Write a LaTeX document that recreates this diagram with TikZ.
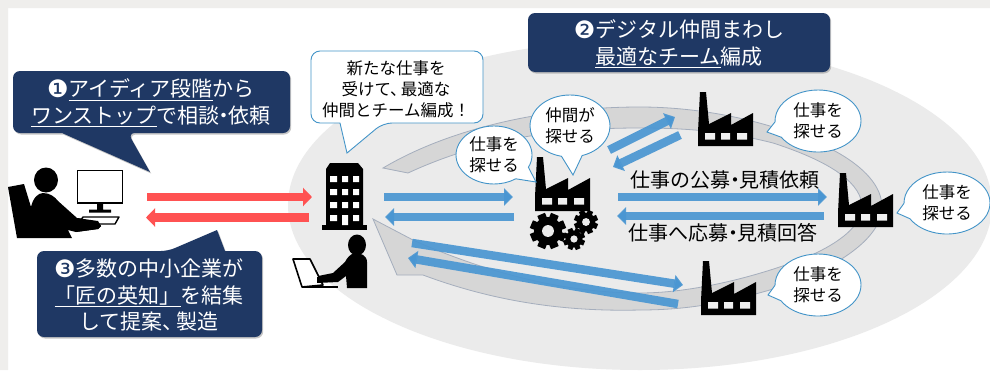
\documentclass[tikz,border=0pt]{standalone}
\usepackage{fontspec}
\setmainfont{Noto Sans CJK JP}
\newfontfamily\dvfont{DejaVu Sans}
\usetikzlibrary{arrows.meta,shapes.callouts,shadows}
\definecolor{navy}{HTML}{1F3864}
\definecolor{ringfill}{HTML}{D6D6D6}
\definecolor{ringline}{HTML}{A5AEBD}
\definecolor{halo}{HTML}{EBEBEB}
\definecolor{frameband}{HTML}{EFEEEC}
\definecolor{redarrow}{HTML}{FF5252}
\definecolor{bluearrow}{HTML}{4A96D2}
\definecolor{bubbleline}{HTML}{4394C8}
\newcommand{\dotj}{\kern-.28em・\kern-.28em}
\newcommand{\tenj}{、\kern-.35em}
\newcommand{\fsz}[2]{\fontsize{#1}{#2}\selectfont}
\newcommand{\numj}[1]{{\fontsize{24}{24}\dvfont\raisebox{-1pt}{#1}}}
\newsavebox{\ulbox}
\newcommand{\ulj}[1]{\sbox{\ulbox}{#1}\leavevmode\rlap{\rule[-3.6pt]{\wd\ulbox}{.8pt}}\usebox{\ulbox}}
\newcommand{\geardraw}[3]{%
  \foreach \a in {0,45,...,315}{\draw[black,line width=#3*0.46pt] (#1,#2)++(\a+22.5:#3*0.6) -- ++(\a+22.5:#3*0.4);}
  \fill[black] (#1,#2) circle [radius=#3*0.78pt];
  \fill[halo] (#1,#2) circle [radius=#3*0.33pt];}
\tikzset{
  x=1pt,y=-1pt,
  redflow/.style={draw=redarrow,line width=8.5pt,-{Triangle[width=18pt,length=9pt]}},
  blueflow/.style={draw=bluearrow,line width=8.5pt,draw opacity=.92,-{Triangle[width=17pt,length=9pt]}},
  darkbox/.style={fill=navy,drop shadow={shadow xshift=1.2pt,shadow yshift=-1.5pt,opacity=.45}},
  darktext/.style={text=white,align=center,inner sep=0pt,font=\fsz{21}{26.5}},
  whitebox/.style={fill=white,draw=bubbleline,line width=.9pt},
  bubble/.style={ellipse callout,fill=white,draw=bubbleline,line width=.9pt,inner sep=0pt,
     align=center,font=\fsz{16.5}{21},callout pointer arc=30},
  flowlabel/.style={inner sep=0pt,font=\fsz{20}{24}},
  factory/.pic={
    \fill[black] (0,55) -- (0,41) -- (2,1) -- (8,1) -- (11,33) -- (33,22) -- (33,34) -- (55,22) -- (55,55) -- cycle;
    \fill[halo!80!white] (7,42) rectangle (17,48.5) (23,42) rectangle (32,48.5) (39,42) rectangle (49,48.5);
  }
}
\begin{document}
\begin{tikzpicture}
\useasboundingbox (0,0) rectangle (990,370);
\fill[white] (0,0) rectangle (990,370);
\fill[frameband] (0,0) rectangle (990,8) (0,0) rectangle (8,370);
% halo
\fill[halo] (640,205) ellipse [x radius=352pt,y radius=165pt];
% ring arrow
\path[fill=ringfill,draw=ringline,line width=.8pt]
  (383,168) .. controls (447,130) and (540,107) .. (640,107)
  .. controls (700,107) and (770,120) .. (833,150)
  .. controls (865,167) and (882,187) .. (882,207)
  .. controls (882,235) and (845,265) .. (780,287)
  .. controls (730,302) and (690,310) .. (640,310)
  .. controls (560,312) and (490,300) .. (423,275)
  -- (397,275) -- (373,219) -- (413,240)
  .. controls (480,270) and (560,293) .. (640,293)
  .. controls (700,293) and (770,272) .. (807,257)
  .. controls (840,243) and (862,225) .. (862,207)
  .. controls (862,185) and (835,163) .. (773,143)
  .. controls (730,132) and (690,128) .. (640,128)
  .. controls (570,128) and (490,135) .. (408,173) -- cycle;
% coordinates of connectors
\coordinate (personout) at (147,197);
\coordinate (bldin) at (312,197);
\coordinate (bldout) at (309,217.5);
\coordinate (personin) at (146,217.5);
\coordinate (bldr1) at (384,197);
\coordinate (fcin) at (513,197);
\coordinate (fcout) at (514,217);
\coordinate (bldr2) at (385,217);
\coordinate (fc1) at (609,150);
\coordinate (ftin) at (675,117);
\coordinate (ftout) at (680,135);
\coordinate (fc2) at (613,167);
\coordinate (fc3) at (618,197);
\coordinate (frin) at (827,197);
\coordinate (frout) at (824,216);
\coordinate (fc4) at (617,216);
\coordinate (bld3) at (412,243);
\coordinate (fbin) at (683,285);
\coordinate (fbout) at (678,304);
\coordinate (bld4) at (408,258);
% flows
\draw[redflow] (personout) -- (bldin);
\draw[redflow] (bldout) -- (personin);
\draw[blueflow] (bldr1) -- (fcin);
\draw[blueflow] (fcout) -- (bldr2);
\draw[blueflow] (fc1) -- (ftin);
\draw[blueflow] (ftout) -- (fc2);
\draw[blueflow] (fc3) -- (frin);
\draw[blueflow] (frout) -- (fc4);
\draw[blueflow] (bld3) -- (fbin);
\draw[blueflow] (fbout) -- (bld4);
% flow labels
\node[flowlabel] (lab1) at (725,180) {仕事の公募\dotj 見積依頼};
\node[flowlabel] (lab2) at (723,233) {仕事へ応募\dotj 見積回答};
% factories
\pic (fcenter) at (535,156) {factory};
\pic (ftop) at (698,91) {factory};
\pic (fright) at (838,172) {factory};
\pic (fbottom) at (701,260) {factory};
% gears
\geardraw{548}{231}{18}
\geardraw{586}{222}{12}
\geardraw{574}{239}{11}
% building
\fill[black] (322,225) rectangle (367,230);
\fill[black] (326,225) -- (326,169) -- (330,163) -- (358,163) -- (363,169) -- (363,225) -- cycle;
\fill[white] (330,176) rectangle (337,182) (342,176) rectangle (348,182) (353,176) rectangle (359,182)
  (330,189) rectangle (337,195) (342,189) rectangle (348,195) (353,189) rectangle (359,195)
  (330,202) rectangle (337,208) (342,202) rectangle (348,208) (353,202) rectangle (359,208)
  (330,215) rectangle (337,221) (342,215) rectangle (348,225) (353,215) rectangle (359,221);
% person with laptop
\fill[black] (357,245) ellipse [x radius=9pt,y radius=10.5pt];
\fill[black] (347,288) -- (367,288) -- (367,262) .. controls (367,255) and (360,253) .. (355,253)
  .. controls (350,254) and (347,258) .. (345,262) -- (333,273) -- (318,276) -- (317,283) -- (338,282) -- (346,276) -- cycle;
\draw[black,line width=1.6pt,fill=white,line join=round] (293,259) -- (310,259) -- (323,285) -- (302,287) -- cycle;
\draw[black,line width=1.6pt] (302,287) -- (338,287);
\fill[black] (317,277) rectangle (323,283);
% left person
\fill[black] (46,180) ellipse [x radius=12pt,y radius=12.5pt];
\fill[black] (8,187) -- (24,184) -- (31,207) .. controls (33,198) and (38,193) .. (43,193)
  .. controls (50,193) and (55,197) .. (58,201) -- (77,218) -- (98,221) -- (101,226) -- (98,229)
  -- (76,232) -- (68,230) -- (72,238) -- (17,238) -- cycle;
\draw[black,line width=1.6pt,fill=white] (77.5,170.5) rectangle (122.5,203);
\fill[black] (97,203) rectangle (103,210) (89,209.5) rectangle (111,212.5);
\draw[black,line width=1.4pt,fill=white,line join=round] (83,217) -- (119,217) -- (115,224) -- (78,224) -- cycle;
\fill[black] (77,218) -- (98,221) -- (101,226) -- (98,229) -- (76,232) -- cycle;
% dark callouts
\path[darkbox,rounded corners=7pt] (13,71) -- (290,71) -- (290,133) -- (128,133) [sharp corners] -- (150,172) -- (62,133) [rounded corners=7pt] -- (13,133) -- cycle;
\node[darktext] (step1) at (151,103) {\numj{❶}\ulj{アイディア段階}から\\\ulj{ワンストップ}で相談\dotj 依頼};
\path[darkbox,rounded corners=7pt] (37,251) -- (168,251) [sharp corners] -- (217,230) -- (225,251) [rounded corners=7pt] -- (262,251) -- (262,337) -- (37,337) -- cycle;
\node[darktext] (step3) at (149,295) {\numj{❸}多数の中小企業が\\\ulj{「匠の英知」}を結集\\して提案\tenj 製造};
\path[darkbox,rounded corners=7pt] (528,13) rectangle (830,72);
\node[darktext] (step2) at (679,44) {\numj{❷}デジタル仲間まわし\\\ulj{最適なチーム}編成};
% white callout
\path[whitebox,rounded corners=9pt] (311,51) -- (483,51) -- (483,123) -- (383,123) [sharp corners] -- (347,153) -- (340,123) [rounded corners=9pt] -- (311,123) -- cycle;
\node[align=center,inner sep=0pt,font=\fsz{16.5}{21}] (msg) at (396,89) {新たな仕事を\\受けて\tenj 最適な\\仲間とチーム編成！};
% bubbles
\node[bubble,minimum width=76pt,minimum height=58pt,callout absolute pointer={(536,182)}] (b1) at (494,155) {仕事を\\探せる};
\node[bubble,minimum width=80pt,minimum height=62pt,callout absolute pointer={(573,175)}] (b2) at (570,126) {仲間が\\探せる};
\node[bubble,minimum width=86pt,minimum height=62pt,callout absolute pointer={(767,132)}] (b3) at (818,121) {仕事を\\探せる};
\node[bubble,minimum width=86pt,minimum height=62pt,callout absolute pointer={(897,213)}] (b4) at (947,203) {仕事を\\探せる};
\node[bubble,minimum width=86pt,minimum height=62pt,callout absolute pointer={(768,295)}] (b5) at (818,285) {仕事を\\探せる};
\end{tikzpicture}
\end{document}
